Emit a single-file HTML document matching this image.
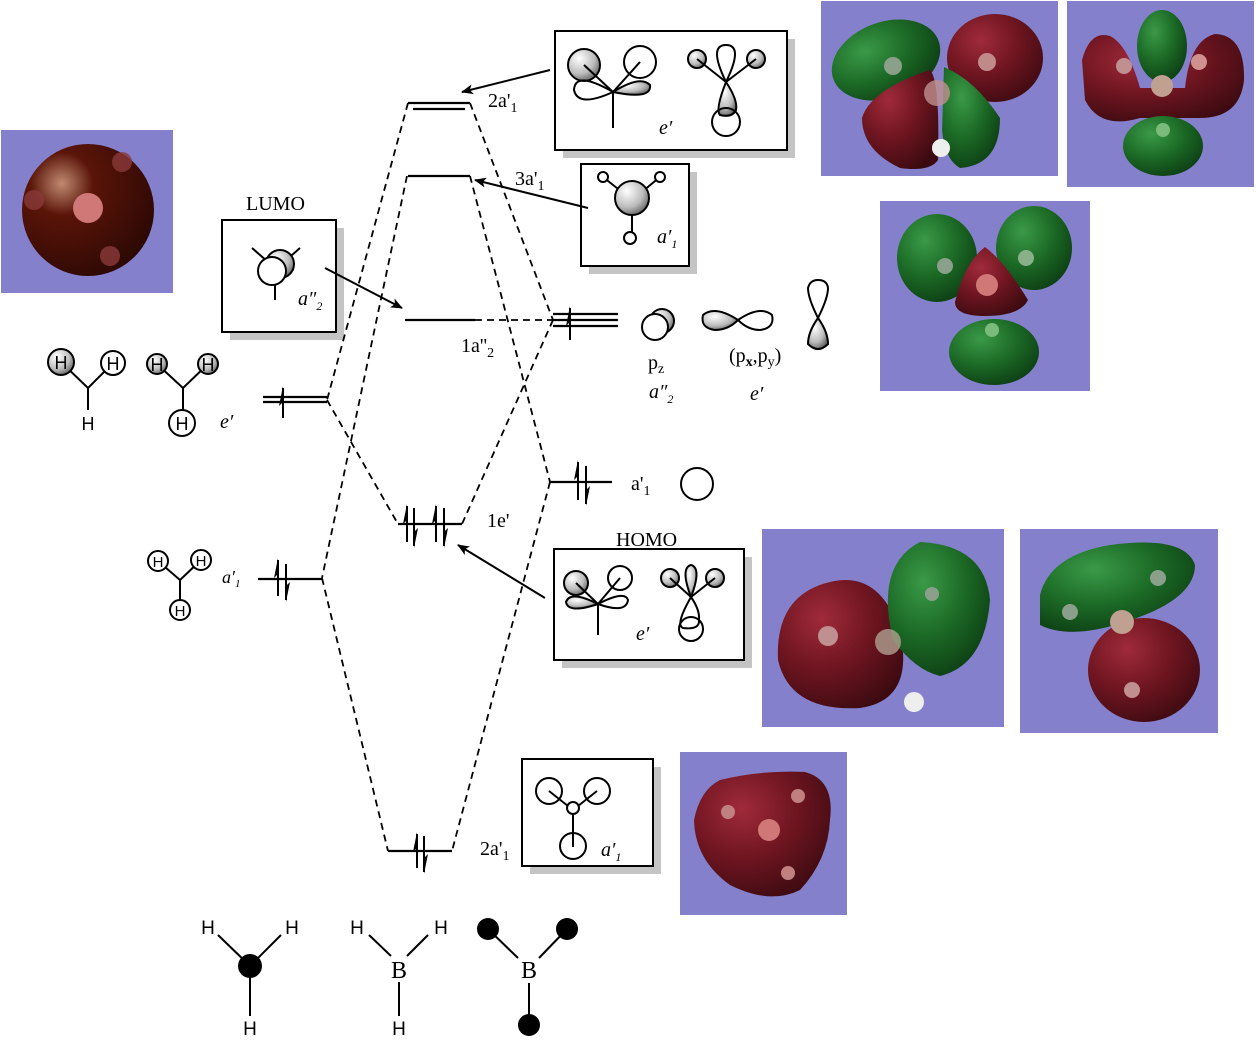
<!DOCTYPE html>
<html><head><meta charset="utf-8"><style>
html,body{margin:0;padding:0;background:#fff}
svg{display:block}
text{font-family:"Liberation Serif",serif;fill:#000}
.s{font-family:"Liberation Sans",sans-serif}
</style></head><body>
<svg width="1256" height="1051" viewBox="0 0 1256 1051" xmlns="http://www.w3.org/2000/svg">
<defs>
<radialGradient id="gs" cx="0.35" cy="0.3" r="0.8"><stop offset="0" stop-color="#fff"/><stop offset="0.6" stop-color="#bbb"/><stop offset="1" stop-color="#555"/></radialGradient>
<radialGradient id="rd" cx="0.35" cy="0.3" r="0.8"><stop offset="0" stop-color="#a02a3a"/><stop offset="0.5" stop-color="#6e1520"/><stop offset="1" stop-color="#3a0a10"/></radialGradient>
<radialGradient id="gr" cx="0.35" cy="0.3" r="0.8"><stop offset="0" stop-color="#3a9a48"/><stop offset="0.5" stop-color="#1c6a26"/><stop offset="1" stop-color="#0c3a12"/></radialGradient>
<radialGradient id="sp" cx="0.3" cy="0.3" r="0.8"><stop offset="0" stop-color="#c08a70"/><stop offset="0.3" stop-color="#5a1408"/><stop offset="1" stop-color="#2a0804"/></radialGradient>
<marker id="ah" markerWidth="12" markerHeight="10" refX="11" refY="5" orient="auto" markerUnits="userSpaceOnUse"><path d="M0,0 L12,5 L0,10 L3,5 z" fill="#000"/></marker>
</defs>

<g fill="#8480cc">
<rect x="1" y="130" width="172" height="163"/>
<rect x="821" y="1" width="237" height="175"/>
<rect x="1067" y="1" width="187" height="186"/>
<rect x="880" y="201" width="210" height="190"/>
<rect x="762" y="529" width="242" height="198"/>
<rect x="1020" y="529" width="198" height="204"/>
<rect x="680" y="752" width="167" height="163"/>
</g>
<circle cx="88" cy="210" r="66" fill="url(#sp)"/>
<circle cx="88" cy="208" r="15" fill="#d07878"/>
<circle cx="34" cy="200" r="10" fill="#8a3a3a" opacity="0.8"/>
<circle cx="122" cy="162" r="10" fill="#8a3a3a" opacity="0.8"/>
<circle cx="110" cy="256" r="10" fill="#8a3a3a" opacity="0.8"/>

<ellipse cx="886" cy="60" rx="56" ry="38" fill="url(#gr)" transform="rotate(-20 886 60)"/>
<ellipse cx="995" cy="58" rx="48" ry="44" fill="url(#rd)"/>
<path d="M930,70 Q940,80 938,160 Q930,172 900,168 Q862,150 862,118 Q870,90 930,70z" fill="url(#rd)"/>
<path d="M944,67 Q975,80 1000,118 Q1000,165 960,168 Q945,160 942,130z" fill="url(#gr)"/>
<circle cx="893" cy="66" r="9" fill="#8aa08a"/><circle cx="987" cy="62" r="9" fill="#c08a8a"/>
<circle cx="937" cy="93" r="13" fill="#c09090" opacity="0.8"/>
<circle cx="941" cy="148" r="9" fill="#eee"/>
<ellipse cx="1162" cy="46" rx="25" ry="36" fill="url(#gr)"/>
<path d="M1082,60 Q1090,30 1110,36 Q1128,45 1140,88 L1185,88 Q1190,40 1215,34 Q1245,35 1244,80 Q1240,118 1200,118 L1140,118 Q1100,130 1085,100z" fill="url(#rd)"/>
<ellipse cx="1163" cy="146" rx="40" ry="30" fill="url(#gr)"/>
<circle cx="1124" cy="66" r="8" fill="#c09090"/><circle cx="1199" cy="62" r="8" fill="#d09090"/>
<circle cx="1162" cy="86" r="11" fill="#c0a090"/><circle cx="1163" cy="130" r="7" fill="#7aba7a"/>
<ellipse cx="937" cy="258" rx="40" ry="44" fill="url(#gr)"/>
<ellipse cx="1034" cy="248" rx="38" ry="42" fill="url(#gr)"/>
<path d="M985,247 Q1005,262 1028,300 Q1020,316 985,316 Q955,316 955,302 Q965,262 985,247z" fill="url(#rd)"/>
<ellipse cx="994" cy="352" rx="45" ry="33" fill="url(#gr)"/>
<circle cx="945" cy="266" r="8" fill="#8aa08a"/><circle cx="1026" cy="258" r="8" fill="#8ab08a"/>
<circle cx="987" cy="285" r="11" fill="#d07878"/><circle cx="992" cy="330" r="7" fill="#7aba7a"/>
<path d="M830,582 Q880,570 900,632 Q915,700 860,708 Q790,712 778,660 Q775,595 830,582z" fill="url(#rd)"/>
<path d="M920,542 Q985,545 990,600 Q985,665 940,676 Q915,670 893,640 Q875,565 920,542z" fill="url(#gr)"/>
<circle cx="828" cy="636" r="10" fill="#c09090"/><circle cx="888" cy="642" r="13" fill="#b0a090" opacity="0.8"/>
<circle cx="932" cy="594" r="7" fill="#8aa08a"/><circle cx="914" cy="702" r="10" fill="#eee"/>
<path d="M1040,595 Q1050,555 1110,545 Q1185,535 1195,565 Q1195,600 1125,622 Q1070,640 1040,625z" fill="url(#gr)"/>
<ellipse cx="1144" cy="670" rx="56" ry="52" fill="url(#rd)"/>
<circle cx="1070" cy="612" r="8" fill="#8aa08a"/><circle cx="1158" cy="578" r="8" fill="#8aa08a"/>
<circle cx="1122" cy="622" r="12" fill="#c0a090"/><circle cx="1132" cy="690" r="8" fill="#c09090"/>
<path d="M720,780 Q760,770 805,772 Q835,780 830,820 Q828,860 800,890 Q770,905 730,885 Q695,860 694,820 Q700,790 720,780z" fill="url(#rd)"/>
<circle cx="769" cy="830" r="11" fill="#d07878"/><circle cx="798" cy="796" r="7" fill="#c08080"/>
<circle cx="728" cy="812" r="7" fill="#c08080"/><circle cx="788" cy="873" r="7" fill="#c08080"/>

<g fill="#c4c4c4">
<rect x="563" y="39" width="232" height="119"/>
<rect x="589" y="172" width="108" height="102"/>
<rect x="230" y="228" width="114" height="112"/>
<rect x="562" y="557" width="190" height="111"/>
<rect x="530" y="767" width="131" height="107"/>
</g>
<g fill="#fff" stroke="#000" stroke-width="2">
<rect x="555" y="31" width="232" height="119"/>
<rect x="581" y="164" width="108" height="102"/>
<rect x="222" y="220" width="114" height="112"/>
<rect x="554" y="549" width="190" height="111"/>
<rect x="522" y="759" width="131" height="107"/>
</g>

<g stroke="#000" stroke-width="1.8" stroke-dasharray="7,5" fill="none">
<path d="M408,103 L327,400"/><path d="M407,176 L322,578"/>
<path d="M470,103 L553,320"/><path d="M470,176 L550,482"/>
<path d="M327,400 L398,524"/><path d="M553,320 L462,524"/>
<path d="M322,578 L388,851"/><path d="M550,482 L452,851"/>
<path d="M475,320 L553,320"/>
</g>
<g stroke="#000" stroke-width="2.2" fill="none">
<path d="M408,103 H470"/><path d="M413,109 H465"/>
<path d="M408,176 H470"/>
<path d="M405,320 H475"/>
<path d="M553,314 H618 M553,320 H618 M553,326 H618"/>
<path d="M550,482 H612"/>
<path d="M398,524 H462"/>
<path d="M263,397 H327 M263,402 H327"/>
<path d="M258,579 H322"/>
<path d="M388,851 H452"/>
</g>
<g stroke="#000" stroke-width="2">
<path d="M570,308 V340"/><path d="M283,388 V418"/>
<path d="M578,462 V500 M586,466 V504"/>
<path d="M407,506 V542 M414,508 V546 M436,506 V542 M444,508 V546"/>
<path d="M278,560 V596 M286,564 V600"/>
<path d="M417,834 V868 M424,836 V872"/>
</g>
<g fill="#000">
<path d="M570,306 L566,326 L570,322z"/><path d="M283,386 L279,406 L283,402z"/>
<path d="M578,460 L574,480 L578,476z M586,506 L590,486 L586,490z"/>
<path d="M407,504 L403,524 L407,520z M414,548 L418,528 L414,532z M436,504 L432,524 L436,520z M444,548 L448,528 L444,532z"/>
<path d="M278,558 L274,578 L278,574z M286,602 L290,582 L286,586z"/>
<path d="M417,832 L413,852 L417,848z M424,874 L428,854 L424,858z"/>
</g>
<g stroke="#000" stroke-width="2" marker-end="url(#ah)">
<line x1="550" y1="70" x2="462" y2="92"/>
<line x1="588" y1="208" x2="475" y2="180"/>
<line x1="325" y1="268" x2="402" y2="308"/>
<line x1="545" y1="598" x2="458" y2="545"/>
</g>

<g font-size="20">
<text x="488" y="107">2a'<tspan font-size="14" dy="5">1</tspan></text>
<text x="515" y="185">3a'<tspan font-size="14" dy="5">1</tspan></text>
<text x="461" y="352">1a''<tspan font-size="14" dy="5">2</tspan></text>
<text x="631" y="490">a'<tspan font-size="14" dy="5">1</tspan></text>
<text x="487" y="527">1e'</text>
<text x="480" y="855">2a'<tspan font-size="14" dy="5">1</tspan></text>
<text x="246" y="210">LUMO</text>
<text x="616" y="546">HOMO</text>
<text x="648" y="369">p<tspan font-size="14" dy="4">z</tspan></text>
<text x="729" y="362">(p<tspan font-size="14" dy="4" font-weight="bold">x</tspan><tspan dy="-4">,p</tspan><tspan font-size="14" dy="4">y</tspan><tspan dy="-4">)</tspan></text>
</g>
<g font-size="20" font-style="italic">
<text x="659" y="134">e′</text>
<text x="657" y="243">a′<tspan font-size="12" dy="5">1</tspan></text>
<text x="298" y="305">a″<tspan font-size="12" dy="5">2</tspan></text>
<text x="649" y="398">a″<tspan font-size="12" dy="5">2</tspan></text>
<text x="750" y="400">e′</text>
<text x="636" y="640">e′</text>
<text x="601" y="856">a′<tspan font-size="12" dy="5">1</tspan></text>
<text x="220" y="428" fill="#444">e′</text>
<text x="222" y="583" font-size="18">a′<tspan font-size="11" dy="4">1</tspan></text>
</g>

<g stroke="#000" stroke-width="2" fill="none">
<circle cx="584" cy="65" r="16" fill="url(#gs)"/>
<circle cx="640" cy="62" r="16"/>
<path d="M613,92 Q575,70 574,90 Q578,108 613,92z"/>
<path d="M613,92 Q640,75 650,85 Q652,100 613,92z" fill="url(#gs)"/>
<line x1="584" y1="65" x2="613" y2="92"/><line x1="640" y1="62" x2="613" y2="92"/><line x1="613" y1="92" x2="613" y2="128"/>
<circle cx="697" cy="59" r="9" fill="url(#gs)"/><circle cx="756" cy="59" r="9" fill="url(#gs)"/>
<path d="M726,82 Q708,45 726,45 Q744,45 726,82z"/>
<path d="M726,82 Q715,110 720,115 Q732,118 736,110 Q738,100 726,82z" fill="url(#gs)"/>
<circle cx="726" cy="122" r="14"/>
<line x1="697" y1="59" x2="726" y2="82"/><line x1="756" y1="59" x2="726" y2="82"/>
<line x1="603" y1="177" x2="632" y2="200"/><line x1="660" y1="177" x2="632" y2="200"/><line x1="632" y1="200" x2="632" y2="236"/>
<circle cx="603" cy="177" r="5" fill="#fff"/><circle cx="660" cy="177" r="5" fill="#fff"/>
<circle cx="632" cy="198" r="17" fill="url(#gs)"/>
<circle cx="630" cy="238" r="6" fill="#fff"/>
<line x1="252" y1="248" x2="268" y2="262"/><line x1="300" y1="248" x2="284" y2="262"/><line x1="275" y1="282" x2="275" y2="300"/>
<circle cx="280" cy="264" r="14" fill="url(#gs)"/>
<circle cx="272" cy="271" r="14" fill="#fff"/>
<circle cx="662" cy="321" r="12" fill="url(#gs)"/>
<circle cx="655" cy="327" r="13" fill="#fff"/>
<path d="M738,320 Q715,305 703,315 Q700,328 715,330 Q728,330 738,320z" fill="url(#gs)"/>
<path d="M738,320 Q760,305 772,315 Q775,328 760,330 Q748,330 738,320z"/>
<path d="M818,318 Q808,298 808,288 Q810,280 818,280 Q827,280 828,288 Q828,298 818,318z"/>
<path d="M818,318 Q808,332 808,344 Q818,354 828,344 Q828,332 818,318z" fill="url(#gs)"/>
<circle cx="697" cy="484" r="16"/>
<circle cx="576" cy="583" r="12" fill="url(#gs)"/><circle cx="620" cy="578" r="12"/>
<path d="M598,604 Q570,590 566,602 Q568,614 598,604z" fill="url(#gs)"/>
<path d="M598,604 Q625,590 628,600 Q626,614 598,604z"/>
<line x1="576" y1="583" x2="598" y2="604"/><line x1="620" y1="578" x2="598" y2="604"/><line x1="598" y1="604" x2="598" y2="635"/>
<circle cx="670" cy="578" r="9" fill="url(#gs)"/><circle cx="715" cy="578" r="9" fill="url(#gs)"/>
<path d="M691,597 Q680,568 691,565 Q702,568 691,597z" fill="url(#gs)"/>
<path d="M691,597 Q675,625 683,628 Q700,630 699,620 Q700,610 691,597z"/>
<circle cx="691" cy="629" r="12"/>
<line x1="670" y1="578" x2="691" y2="597"/><line x1="715" y1="578" x2="691" y2="597"/>
<circle cx="549" cy="791" r="13"/><circle cx="597" cy="791" r="13"/>
<line x1="549" y1="791" x2="573" y2="810"/><line x1="597" y1="791" x2="573" y2="810"/><line x1="573" y1="810" x2="573" y2="847"/>
<circle cx="573" cy="808" r="6" fill="#fff"/>
<circle cx="573" cy="846" r="13"/>
</g>

<g stroke="#000" stroke-width="2" fill="none">
<line x1="61" y1="362" x2="88" y2="388"/><line x1="113" y1="363" x2="88" y2="388"/><line x1="88" y1="388" x2="88" y2="410"/>
<circle cx="61" cy="362" r="13" fill="url(#gs)"/><circle cx="113" cy="363" r="12" fill="#fff"/>
<line x1="157" y1="364" x2="183" y2="388"/><line x1="208" y1="364" x2="183" y2="388"/><line x1="183" y1="388" x2="183" y2="410"/>
<circle cx="157" cy="364" r="10" fill="url(#gs)"/><circle cx="208" cy="364" r="10" fill="url(#gs)"/><circle cx="182" cy="423" r="13" fill="#fff"/>
<line x1="158" y1="561" x2="180" y2="580"/><line x1="201" y1="560" x2="180" y2="580"/><line x1="180" y1="580" x2="180" y2="600"/>
<circle cx="158" cy="561" r="10" fill="#fff"/><circle cx="201" cy="560" r="10" fill="#fff"/><circle cx="180" cy="610" r="10" fill="#fff"/>
</g>
<g font-size="18" text-anchor="middle">
<text class="s" x="61" y="369">H</text><text class="s" x="113" y="370">H</text><text class="s" x="88" y="430">H</text>
<text class="s" x="157" y="371">H</text><text class="s" x="208" y="371">H</text><text class="s" x="182" y="430">H</text>
</g>
<g font-size="15" text-anchor="middle">
<text class="s" x="158" y="567">H</text><text class="s" x="201" y="566">H</text><text class="s" x="180" y="616">H</text>
</g>

<g stroke="#000" stroke-width="2">
<line x1="218" y1="935" x2="250" y2="966"/><line x1="281" y1="935" x2="250" y2="966"/><line x1="250" y1="966" x2="250" y2="1016"/>
<line x1="369" y1="935" x2="391" y2="956"/><line x1="428" y1="935" x2="407" y2="956"/><line x1="399" y1="982" x2="399" y2="1016"/>
<line x1="488" y1="929" x2="518" y2="958"/><line x1="567" y1="929" x2="539" y2="958"/><line x1="529" y1="983" x2="529" y2="1024"/>
</g>
<circle cx="250" cy="966" r="12" fill="#000"/>
<circle cx="488" cy="929" r="11" fill="#000"/><circle cx="567" cy="929" r="11" fill="#000"/><circle cx="529" cy="1025" r="11" fill="#000"/>
<g font-size="19" text-anchor="middle">
<text class="s" x="208" y="934">H</text><text class="s" x="292" y="934">H</text><text class="s" x="250" y="1035">H</text>
<text class="s" x="357" y="934">H</text><text class="s" x="441" y="934">H</text><text class="s" x="399" y="1035">H</text>
<text x="399" y="978" font-size="24">B</text><text x="529" y="978" font-size="24">B</text>
</g>
</svg>
</body></html>
